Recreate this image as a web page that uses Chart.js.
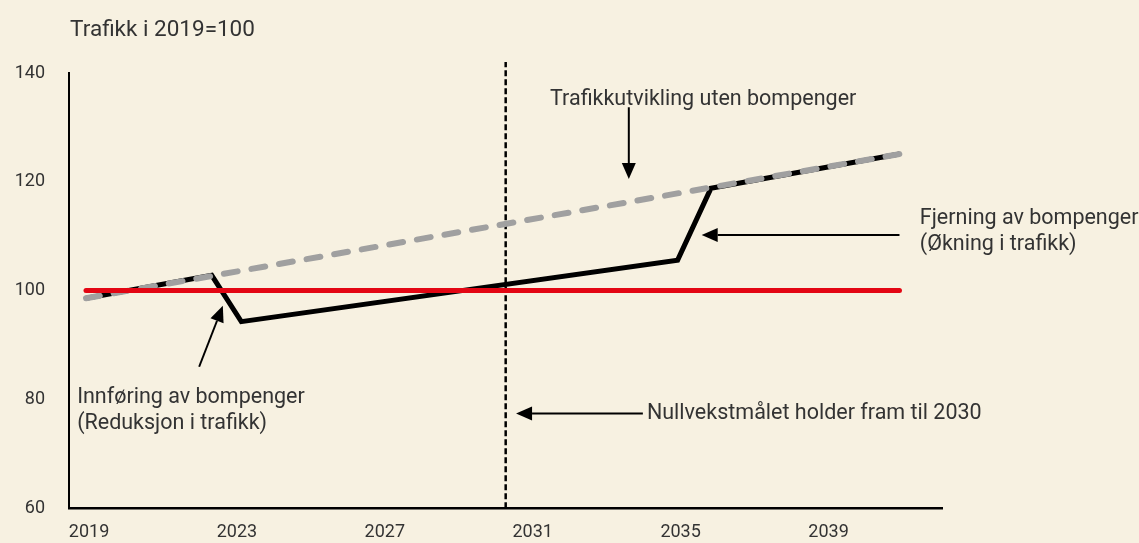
<!DOCTYPE html>
<html>
<head>
<meta charset="utf-8">
<script src="https://cdn.jsdelivr.net/npm/chart.js@4"></script>
<style>
  html, body { margin: 0; padding: 0; background: #f7f1e1; }
  #wrap { width: 1139px; height: 543px; position: relative; }
</style>
</head>
<body>
<div id="wrap"><canvas id="chart"></canvas></div>
<script>
// tick labels on the year axis
const tickYears = [2019, 2023, 2027, 2031, 2035, 2039];

// red line: traffic kept at the 2019 level
const baseYears  = [2019, 2041];
const baseValues = [100, 100];

// grey dashed: traffic growth without tolls
const trendYears  = [2019, 2041];
const trendValues = [98.6, 125.1];

// black: traffic with tolls introduced and removed
const tollYears  = [2019, 2022.4, 2023.2, 2035.0, 2035.9, 2041];
const tollValues = [98.6, 102.8, 94.3, 105.6, 118.8, 125.1];

// vertical dotted marker for the zero-growth target
const goalYear  = 2030.35;
const goalRange = [60, 142];

// text notes, anchored in data coordinates (left edge, first line centre)
const noteTexts = [
  ['Trafikk i 2019=100'],
  ['Trafikkutvikling uten bompenger'],
  ['Fjerning av bompenger', '(Økning i trafikk)'],
  ['Innføring av bompenger', '(Reduksjon i trafikk)'],
  ['Nullvekstmålet holder fram til 2030']
];
const noteX = [2018.57, 2031.55, 2041.55, 2018.76, 2034.17];
const noteY = [147.8, 135.1, 113.3, 80.4, 77.3];
const noteSize = [22.5, 21.5, 21.5, 21.5, 21.5];

// arrows: from -> tip
const arrowFrom = [[2033.68, 133.7], [2041.0, 110.2], [2022.06, 86.0], [2034.06, 77.4]];
const arrowTo   = [[2033.68, 120.5], [2035.65, 110.2], [2022.70, 97.2], [2030.63, 77.4]];

const FONT = 'Roboto, "Open Sans", sans-serif';
const TEXT = '#333333';

function pts(xs, ys) { return xs.map((x, i) => ({ x, y: ys[i] })); }

const notesPlugin = {
  id: 'notes',
  afterDatasetsDraw(chart) {
    const { ctx, scales: { x, y } } = chart;
    ctx.save();
    ctx.fillStyle = TEXT;
    ctx.textAlign = 'left';
    ctx.textBaseline = 'middle';
    noteTexts.forEach((lines, n) => {
      const px = x.getPixelForValue(noteX[n]);
      const py = y.getPixelForValue(noteY[n]);
      ctx.font = noteSize[n] + 'px ' + FONT;
      lines.forEach((t, i) => ctx.fillText(t, px, py + i * 26));
    });

    // arrows
    ctx.strokeStyle = '#000';
    ctx.fillStyle = '#000';
    ctx.lineWidth = 2;
    arrowFrom.forEach((f, i) => {
      const x0 = x.getPixelForValue(f[0]), y0 = y.getPixelForValue(f[1]);
      const x1 = x.getPixelForValue(arrowTo[i][0]), y1 = y.getPixelForValue(arrowTo[i][1]);
      const ang = Math.atan2(y1 - y0, x1 - x0);
      const head = 16, half = 7;
      const bx = x1 - head * Math.cos(ang), by = y1 - head * Math.sin(ang);
      ctx.beginPath();
      ctx.moveTo(x0, y0);
      ctx.lineTo(bx, by);
      ctx.stroke();
      ctx.beginPath();
      ctx.moveTo(x1, y1);
      ctx.lineTo(bx + half * Math.sin(ang), by - half * Math.cos(ang));
      ctx.lineTo(bx - half * Math.sin(ang), by + half * Math.cos(ang));
      ctx.closePath();
      ctx.fill();
    });
    ctx.restore();
  }
};

const ctx = document.getElementById('chart').getContext('2d');
new Chart(ctx, {
  type: 'line',
  data: {
    datasets: [
      { data: pts(baseYears, baseValues), borderColor: '#e30613', borderWidth: 5,
        borderCapStyle: 'round', pointRadius: 0 },
      { data: pts(trendYears, trendValues), borderColor: '#a0a0a0', borderWidth: 6,
        borderDash: [14, 14], borderCapStyle: 'round', pointRadius: 0 },
      { data: pts(tollYears, tollValues), borderColor: '#000000', borderWidth: 5,
        borderJoinStyle: 'miter', pointRadius: 0 },
      { data: [{ x: goalYear, y: goalRange[0] }, { x: goalYear, y: goalRange[1] }],
        borderColor: '#000000', borderWidth: 2.5, borderDash: [6, 3], pointRadius: 0, clip: false }
    ]
  },
  options: {
    responsive: true,
    maintainAspectRatio: false,
    animation: false,
    layout: { padding: { top: 73, right: 197, left: 0, bottom: 0 } },
    plugins: { legend: { display: false }, tooltip: { enabled: false } },
    scales: {
      x: {
        type: 'linear', min: 2018.54, max: 2042.15,
        grid: { display: false, drawTicks: false },
        border: { color: '#000', width: 2.5 },
        afterBuildTicks: s => { s.ticks = tickYears.map(v => ({ value: v })); },
        afterFit: s => { s.height = 33; },
        ticks: { color: TEXT, font: { family: FONT, size: 18 }, padding: 13, labelOffset: 3,
                 callback: v => String(v) }
      },
      y: {
        min: 60, max: 140,
        grid: { display: false, drawTicks: false },
        border: { color: '#000', width: 2 },
        afterFit: s => { s.width = 69; },
        ticks: { stepSize: 20, color: TEXT, font: { family: FONT, size: 18 }, padding: 24 }
      }
    }
  },
  plugins: [notesPlugin]
});
</script>
</body>
</html>
